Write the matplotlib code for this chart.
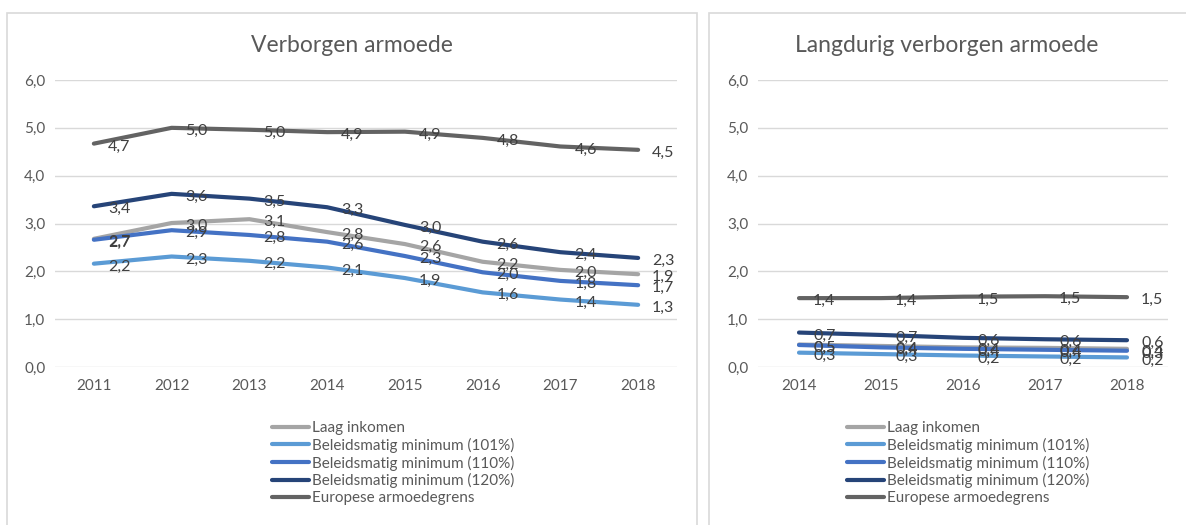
import matplotlib
matplotlib.use('Agg')
import matplotlib.pyplot as plt
from matplotlib.patches import Rectangle

plt.rcParams['font.family'] = ['Lato', 'DejaVu Sans']

# data
jaren_links = ['2011', '2012', '2013', '2014', '2015', '2016', '2017', '2018']
jaren_rechts = ['2014', '2015', '2016', '2017', '2018']
reeksen = ['Laag inkomen', 'Beleidsmatig minimum (101%)', 'Beleidsmatig minimum (110%)',
           'Beleidsmatig minimum (120%)', 'Europese armoedegrens']
kleuren = ['#A5A5A5', '#5B9BD5', '#4472C4', '#264478', '#636363']

laag_links = [2.68, 3.01, 3.09, 2.82, 2.57, 2.20, 2.03, 1.94]
bm101_links = [2.16, 2.31, 2.22, 2.08, 1.86, 1.56, 1.41, 1.30]
bm110_links = [2.66, 2.86, 2.76, 2.62, 2.32, 1.98, 1.80, 1.71]
bm120_links = [3.36, 3.62, 3.52, 3.34, 2.97, 2.62, 2.40, 2.28]
eur_links = [4.67, 5.00, 4.96, 4.91, 4.92, 4.79, 4.61, 4.54]

laag_rechts = [0.47, 0.44, 0.41, 0.40, 0.38]
bm101_rechts = [0.30, 0.27, 0.24, 0.22, 0.20]
bm110_rechts = [0.46, 0.41, 0.38, 0.36, 0.34]
bm120_rechts = [0.72, 0.67, 0.61, 0.58, 0.56]
eur_rechts = [1.44, 1.44, 1.47, 1.48, 1.46]

W, H = 1186, 525
fig = plt.figure(figsize=(W / 100, H / 100), dpi=100)

# panel borders
fig.patches.append(Rectangle((7 / W, -0.01), 690 / W, 1 - 13 / H + 0.01, transform=fig.transFigure,
                             fill=False, edgecolor='#d9d9d9', lw=1.2))
fig.patches.append(Rectangle((709 / W, -0.01), 500 / W, 1 - 13 / H + 0.01, transform=fig.transFigure,
                             fill=False, edgecolor='#d9d9d9', lw=1.2))


def teken(ax, jaren, data, titel, titel_x, leg_x):
    x = range(len(jaren))
    for waarden, naam, kleur in zip(data, reeksen, kleuren):
        ax.plot(x, waarden, color=kleur, lw=3, label=naam, solid_capstyle='round')
        for xi, v in zip(x, waarden):
            ax.annotate(f'{v:.1f}'.replace('.', ','), (xi, v), xytext=(14, -3),
                        textcoords='offset pixels', ha='left', va='center',
                        fontsize=11.5, color='#404040')
    ax.set_xlim(-0.5, len(jaren) - 0.5)
    ax.set_ylim(0, 6)
    ax.set_yticks([0, 1, 2, 3, 4, 5, 6])
    ax.set_yticklabels([f'{t:.1f}'.replace('.', ',') for t in range(7)])
    ax.set_xticks(list(x))
    ax.set_xticklabels(jaren)
    ax.grid(axis='y', color='#d9d9d9', lw=1)
    ax.set_axisbelow(True)
    for s in ax.spines.values():
        s.set_visible(False)
    ax.tick_params(length=0, labelsize=11, colors='#595959')
    ax.tick_params(axis='y', pad=7)
    ax.tick_params(axis='x', pad=9)
    fig.text(titel_x / W, 1 - 45 / H, titel, ha='center', va='center', fontsize=16.5, color='#595959')
    ax.legend(loc='upper left', bbox_to_anchor=(leg_x / W, 1 - 421 / H), bbox_transform=fig.transFigure,
              frameon=False, fontsize=11, handlelength=2.4, handletextpad=0.25, labelspacing=0.18,
              borderpad=0, borderaxespad=0, labelcolor='#595959')


ax1 = fig.add_axes([55 / W, 1 - 367 / H, 622 / W, 287 / H])
teken(ax1, jaren_links, [laag_links, bm101_links, bm110_links, bm120_links, eur_links],
      'Verborgen armoede', 352, 272)

ax2 = fig.add_axes([758 / W, 1 - 367 / H, 410 / W, 287 / H])
teken(ax2, jaren_rechts, [laag_rechts, bm101_rechts, bm110_rechts, bm120_rechts, eur_rechts],
      'Langdurig verborgen armoede', 947, 847)

fig.savefig('out.png', dpi=100)
